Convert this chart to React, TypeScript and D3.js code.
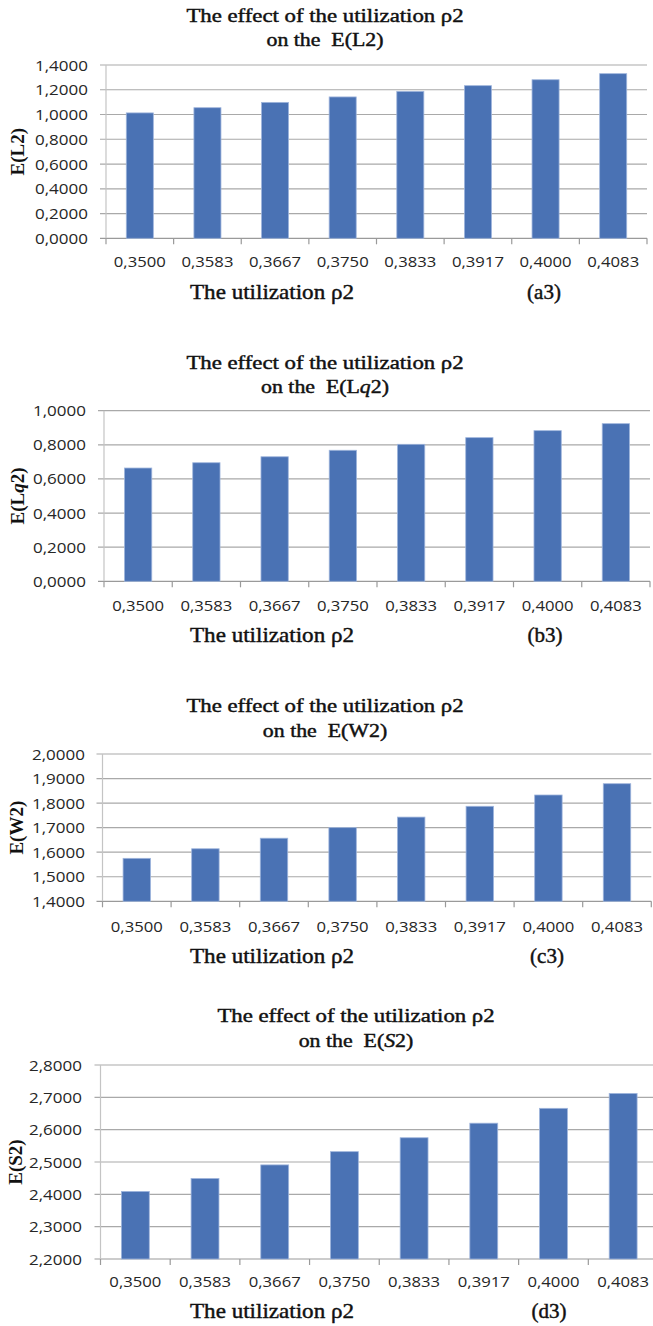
import React from "react";
import * as d3 from "d3";

const categories = ["0,3500", "0,3583", "0,3667", "0,3750", "0,3833", "0,3917", "0,4000", "0,4083"];

const valuesL2 = [1.013, 1.055, 1.098, 1.142, 1.187, 1.233, 1.281, 1.33];
const valuesLq2 = [0.664, 0.695, 0.73, 0.768, 0.803, 0.842, 0.883, 0.924];
const valuesW2 = [1.575, 1.614, 1.657, 1.7, 1.743, 1.787, 1.833, 1.879];
const valuesS2 = [2.409, 2.449, 2.491, 2.532, 2.575, 2.62, 2.666, 2.712];

const ticksL2 = [0, 0.2, 0.4, 0.6, 0.8, 1.0, 1.2, 1.4];
const ticksLq2 = [0, 0.2, 0.4, 0.6, 0.8, 1.0];
const ticksW2 = [1.4, 1.5, 1.6, 1.7, 1.8, 1.9, 2.0];
const ticksS2 = [2.2, 2.3, 2.4, 2.5, 2.6, 2.7, 2.8];

const titleLine1 = "The effect of the utilization \u03c12";
const xTitle = "The utilization \u03c12";

const BAR = "#4a72b4";
const BAR_EDGE = "#9fb5dc";
const GRID = "#a9a9a9";
const INK = "#111";
const SERIF = "'Liberation Serif', 'Times New Roman', serif";
const SANS = "'Open Sans', 'Noto Sans', sans-serif";

const fmt = (v: number) => d3.format(".4f")(v).replace(".", ",");

type Cfg = {
  values: number[];
  ticks: number[];
  left: number;
  right: number;
  top: number;
  bottom: number;
  titleCx: number;
  t1: number;
  t2: number;
  metric: React.ReactNode;
  yTitle: React.ReactNode;
  yTitleX: number;
  labelRight: number;
  xLabelY: number;
  xTitleY: number;
  tag: string;
  tagCx: number;
};

const panels: Cfg[] = [
  {
    values: valuesL2, ticks: ticksL2, left: 106, right: 647, top: 65, bottom: 238.3,
    titleCx: 325, t1: 21.5, t2: 46,
    metric: <>E(L2)</>, yTitle: <>E(L2)</>, yTitleX: 18, labelRight: 88,
    xLabelY: 267, xTitleY: 299, tag: "(a3)", tagCx: 544,
  },
  {
    values: valuesLq2, ticks: ticksLq2, left: 104, right: 650, top: 410.7, bottom: 581.3,
    titleCx: 325, t1: 368.5, t2: 393,
    metric: <>E(L<tspan fontStyle="italic">q</tspan>2)</>,
    yTitle: <>E(L<tspan fontStyle="italic">q</tspan>2)</>, yTitleX: 18, labelRight: 86,
    xLabelY: 611, xTitleY: 642, tag: "(b3)", tagCx: 545,
  },
  {
    values: valuesW2, ticks: ticksW2, left: 102.5, right: 651.3, top: 754, bottom: 901.3,
    titleCx: 325, t1: 711.7, t2: 736.7,
    metric: <>E(W2)</>, yTitle: <>E(W2)</>, yTitleX: 17, labelRight: 85,
    xLabelY: 931.5, xTitleY: 963, tag: "(c3)", tagCx: 547,
  },
  {
    values: valuesS2, ticks: ticksS2, left: 100.5, right: 658, top: 1065, bottom: 1259,
    titleCx: 356, t1: 1021.7, t2: 1046.7,
    metric: <>E(<tspan fontStyle="italic">S</tspan>2)</>, yTitle: <>E(S2)</>, yTitleX: 16, labelRight: 82,
    xLabelY: 1286.5, xTitleY: 1318, tag: "(d3)", tagCx: 549,
  },
];

function Panel({ c }: { c: Cfg }) {
  const x = d3
    .scaleBand<string>()
    .domain(categories)
    .range([c.left, c.right])
    .paddingInner(0.6)
    .paddingOuter(0.3);
  const y = d3
    .scaleLinear()
    .domain([c.ticks[0], c.ticks[c.ticks.length - 1]])
    .range([c.bottom, c.top]);
  const step = x.step();
  const bounds = d3.range(categories.length + 1).map((i) => c.left + i * step);
  const cy = (c.top + c.bottom) / 2;

  return (
    <g>
      {/* title */}
      <g transform={`translate(${c.titleCx},${c.t1}) scale(1.2,1)`}>
        <text textAnchor="middle" fontFamily={SERIF} fontSize={19} fill={INK} stroke={INK} strokeWidth={0.45} style={{ whiteSpace: "pre" }}>
          {titleLine1}
        </text>
      </g>
      <g transform={`translate(${c.titleCx},${c.t2}) scale(1.15,1)`}>
        <text textAnchor="middle" fontFamily={SERIF} fontSize={19} fill={INK} stroke={INK} strokeWidth={0.45} style={{ whiteSpace: "pre" }}>
          {"on the  "}
          {c.metric}
        </text>
      </g>

      {/* gridlines + y ticks */}
      {c.ticks.map((t, i) => (
        <g key={i}>
          <line
            x1={c.left - 6}
            x2={c.right}
            y1={y(t)}
            y2={y(t)}
            stroke={i === 0 ? "#9a9a9a" : GRID}
            strokeWidth={1.2}
          />
          <text
            x={c.labelRight}
            y={y(t) + 5.5}
            textAnchor="end"
            fontFamily={SANS}
            fontSize={15}
            fill="#262626"
            textLength={53}
            lengthAdjust="spacingAndGlyphs"
          >
            {fmt(t)}
          </text>
        </g>
      ))}
      {/* y axis line */}
      <line x1={c.left} x2={c.left} y1={c.top} y2={c.bottom} stroke="#c4c4c4" strokeWidth={1.2} />

      {/* bars */}
      {c.values.map((v, i) => (
        <rect
          key={i}
          x={x(categories[i])}
          width={x.bandwidth()}
          y={y(v)}
          height={y(c.ticks[0]) - y(v)}
          fill={BAR}
          stroke={BAR_EDGE}
          strokeWidth={0.8}
        />
      ))}

      {/* x axis ticks */}
      {bounds.map((b, i) => (
        <line key={i} x1={b} x2={b} y1={c.bottom} y2={c.bottom + 6} stroke="#9a9a9a" strokeWidth={1.2} />
      ))}
      {categories.map((cat, i) => (
        <text
          key={i}
          x={(x(cat) as number) + x.bandwidth() / 2}
          y={c.xLabelY}
          textAnchor="middle"
          fontFamily={SANS}
          fontSize={15}
          fill="#262626"
          textLength={52}
          lengthAdjust="spacingAndGlyphs"
        >
          {cat}
        </text>
      ))}

      {/* y title */}
      <text
        transform={`translate(${c.yTitleX + 6},${cy}) rotate(-90)`}
        textAnchor="middle"
        fontFamily={SERIF}
        fontWeight="bold"
        fontSize={19}
        fill={INK}
      >
        {c.yTitle}
      </text>

      {/* x title and tag */}
      <text
        x={272}
        y={c.xTitleY}
        textAnchor="middle"
        fontFamily={SERIF}
        fontSize={22}
        fill={INK}
        stroke={INK}
        strokeWidth={0.45}
        textLength={164}
        lengthAdjust="spacingAndGlyphs"
      >
        {xTitle}
      </text>
      <text x={c.tagCx} y={c.xTitleY} textAnchor="middle" fontFamily={SERIF} fontSize={21} fill={INK} stroke={INK} strokeWidth={0.45}>
        {c.tag}
      </text>
    </g>
  );
}

export default function App() {
  return (
    <svg
      width={653}
      height={1326}
      viewBox="0 0 653 1326"
      style={{ position: "absolute", left: 0, top: 0, background: "#fff" }}
    >
      <rect x={0} y={0} width={653} height={1326} fill="#fff" />
      {panels.map((c, i) => (
        <Panel key={i} c={c} />
      ))}
    </svg>
  );
}
